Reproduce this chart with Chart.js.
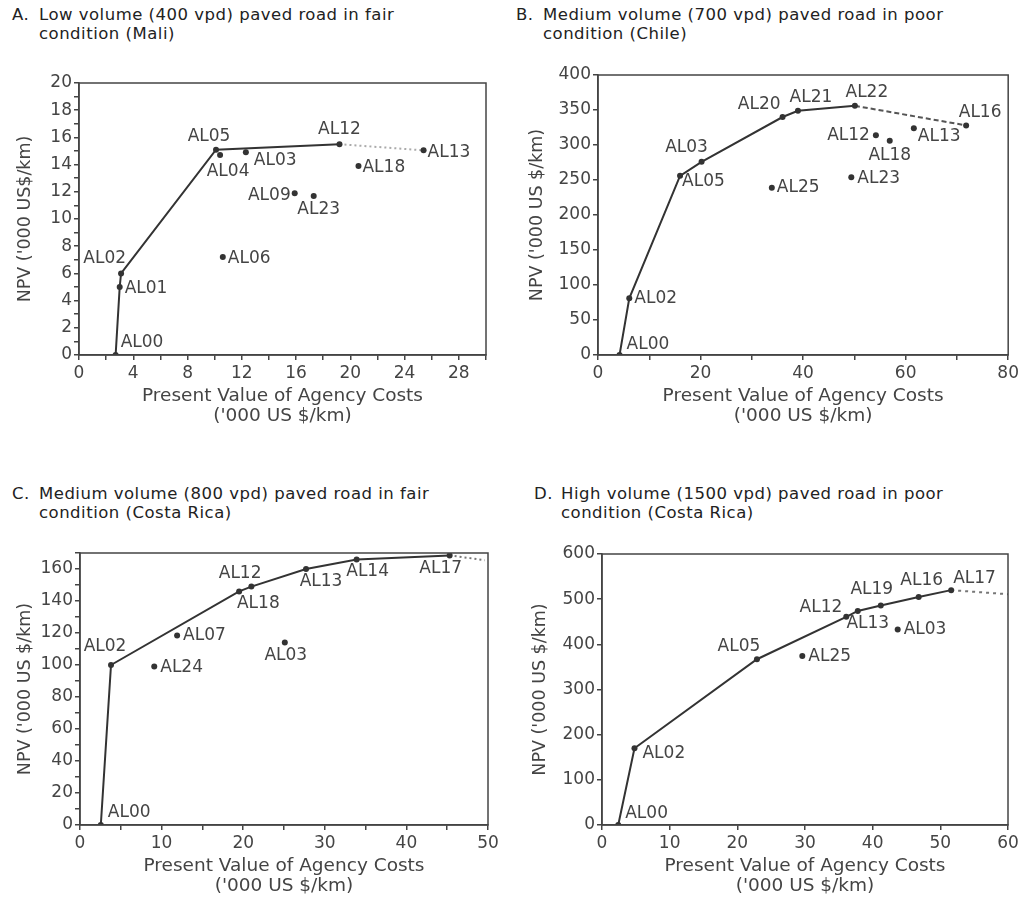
<!DOCTYPE html>
<html>
<head>
<meta charset="utf-8">
<script src="https://cdn.jsdelivr.net/npm/chart.js@4/dist/chart.umd.min.js"></script>
<style>
html, body { margin: 0; padding: 0; background: #fff; overflow: hidden; }
body { width: 1023px; height: 903px; position: relative; font-family: "DejaVu Sans", sans-serif; }
.ttl { position: absolute; font-size: 16.5px; line-height: 19px; letter-spacing: 0.5px; color: #222; white-space: nowrap; }
.ttl .pre { position: absolute; left: 0; top: 0; }
.ttl .txt { display: block; margin-left: 27px; }
canvas { position: absolute; }
</style>
</head>
<body>
<div class="ttl" style="left:12px;top:5px"><span class="pre">A.</span><span class="txt">Low volume (400 vpd) paved road in fair<br>condition (Mali)</span></div>
<div class="ttl" style="left:516px;top:5px"><span class="pre">B.</span><span class="txt">Medium volume (700 vpd) paved road in poor<br>condition (Chile)</span></div>
<div class="ttl" style="left:12px;top:484px"><span class="pre">C.</span><span class="txt">Medium volume (800 vpd) paved road in fair<br>condition (Costa Rica)</span></div>
<div class="ttl" style="left:534px;top:484px"><span class="pre">D.</span><span class="txt">High volume (1500 vpd) paved road in poor<br>condition (Costa Rica)</span></div>

<canvas id="chartA" width="506" height="380" style="left:0px;top:50px"></canvas>
<canvas id="chartB" width="514" height="380" style="left:508px;top:50px"></canvas>
<canvas id="chartC" width="506" height="370" style="left:0px;top:530px"></canvas>
<canvas id="chartD" width="514" height="370" style="left:508px;top:530px"></canvas>

<script>
// ---- data ----
// A. Mali, 400 vpd
const aNames = ['AL00', 'AL01', 'AL02', 'AL05', 'AL04', 'AL03', 'AL12', 'AL13', 'AL18', 'AL09', 'AL23', 'AL06'];
const aCost = [2.7, 3.0, 3.1, 10.1, 10.4, 12.3, 19.2, 25.4, 20.6, 15.9, 17.3, 10.6];
const aNpv = [0, 5.0, 6.0, 15.1, 14.7, 14.9, 15.5, 15.05, 13.9, 11.9, 11.7, 7.2];
const aFrontier = ['AL00', 'AL01', 'AL02', 'AL05', 'AL12'];
const aTail = ['AL12', 'AL13'];

// B. Chile, 700 vpd
const bNames = ['AL00', 'AL02', 'AL05', 'AL03', 'AL20', 'AL21', 'AL22', 'AL16', 'AL12', 'AL18', 'AL13', 'AL23', 'AL25'];
const bCost = [4.2, 6.1, 16.0, 20.2, 36.0, 39.0, 50.1, 71.8, 54.2, 56.9, 61.6, 49.4, 33.9];
const bNpv = [0, 81, 256, 276, 340, 349, 356, 328, 314, 306, 324, 254, 239];
const bFrontier = ['AL00', 'AL02', 'AL05', 'AL03', 'AL20', 'AL21', 'AL22'];
const bTail = ['AL22', 'AL16'];

// C. Costa Rica, 800 vpd
const cNames = ['AL00', 'AL02', 'AL12', 'AL18', 'AL13', 'AL14', 'AL17', 'AL07', 'AL24', 'AL03'];
const cCost = [2.55, 3.8, 19.5, 21.0, 27.7, 33.9, 45.3, 11.9, 9.1, 25.1];
const cNpv = [0, 100, 146, 149, 160, 166, 168.5, 118.5, 99, 114];
const cFrontier = ['AL00', 'AL02', 'AL12', 'AL18', 'AL13', 'AL14', 'AL17'];
const cTail = ['AL17'];
const cEdgeCost = [49.6];
const cEdgeNpv = [165.5];

// D. Costa Rica, 1500 vpd
const dNames = ['AL00', 'AL02', 'AL05', 'AL12', 'AL13', 'AL19', 'AL16', 'AL17', 'AL25', 'AL03'];
const dCost = [2.4, 4.8, 22.9, 36.1, 37.8, 41.2, 46.8, 51.6, 29.6, 43.7];
const dNpv = [0, 170, 367, 461, 474, 486, 505, 520, 374, 433];
const dFrontier = ['AL00', 'AL02', 'AL05', 'AL12', 'AL13', 'AL19', 'AL16', 'AL17'];
const dTail = ['AL17'];
const dEdgeCost = [60];
const dEdgeNpv = [511];

const xTitle = ['Present Value of Agency Costs', "('000 US $/km)"];

// label placement next to each point: [align, dx, dy]
const placeA = {
  AL00: ['left', 5, -12], AL01: ['left', 5, 2], AL02: ['right', 5, -15], AL05: ['center', -7, -13],
  AL04: ['center', 8, 16], AL03: ['left', 8, 8], AL12: ['center', 0, -15], AL13: ['left', 4, 2],
  AL18: ['left', 4, 2], AL09: ['right', -4, 2], AL23: ['center', 5, 14], AL06: ['left', 5, 1]
};
const placeB = {
  AL00: ['left', 7, -10], AL02: ['left', 5, 0], AL05: ['left', 2, 6], AL03: ['center', -15, -14],
  AL20: ['right', -2, -12], AL21: ['center', 13, -13], AL22: ['center', 12, -13], AL16: ['center', 14, -13],
  AL12: ['right', -6, 0], AL18: ['center', 0, 15], AL13: ['left', 4, 8], AL23: ['left', 6, 1], AL25: ['left', 5, 0]
};
const placeC = {
  AL00: ['left', 7, -12], AL02: ['center', -6, -18], AL07: ['left', 6, 0], AL24: ['left', 6, 1],
  AL12: ['center', 1, -18], AL18: ['center', 7, 17], AL13: ['center', 15, 13], AL14: ['center', 11, 12],
  AL17: ['center', -9, 13], AL03: ['center', 1, 13]
};
const placeD = {
  AL00: ['left', 7, -11], AL02: ['left', 8, 5], AL05: ['center', -18, -13], AL12: ['right', -4, -9],
  AL13: ['center', 10, 13], AL19: ['center', -9, -16], AL16: ['center', 3, -16], AL17: ['left', 2, -12],
  AL25: ['left', 6, 1], AL03: ['left', 6, 0]
};

const FONT = '"DejaVu Sans", sans-serif';
const INK = '#444';

// box round the plot area
const framePlugin = {
  id: 'frame',
  afterDraw(chart) {
    const { ctx, chartArea: a } = chart;
    ctx.save();
    ctx.strokeStyle = INK;
    ctx.lineWidth = 1.5;
    ctx.strokeRect(a.left, a.top, a.right - a.left, a.bottom - a.top);
    ctx.restore();
  }
};

// AL.. names beside the points
const namePlugin = {
  id: 'pointNames',
  afterDatasetsDraw(chart, args, opts) {
    const ctx = chart.ctx;
    const ds = chart.data.datasets[0];
    const meta = chart.getDatasetMeta(0);
    ctx.save();
    ctx.font = '17px ' + FONT;
    ctx.fillStyle = INK;
    ctx.textBaseline = 'middle';
    meta.data.forEach((el, i) => {
      const name = ds.names[i];
      const p = opts.place[name] || ['left', 5, 0];
      ctx.textAlign = p[0];
      ctx.fillText(name, el.x + p[1], el.y + p[2]);
    });
    ctx.restore();
  }
};

function pick(names, cost, npv, list) {
  return list.map(n => {
    const i = names.indexOf(n);
    return { x: cost[i], y: npv[i] };
  });
}

function makePanel(id, d) {
  const pts = d.names.map((n, i) => ({ x: d.cost[i], y: d.npv[i] }));
  const tail = pick(d.names, d.cost, d.npv, d.tail);
  (d.edgeCost || []).forEach((c, i) => tail.push({ x: c, y: d.edgeNpv[i] }));

  new Chart(document.getElementById(id), {
    type: 'scatter',
    data: {
      datasets: [
        { names: d.names, data: pts, pointRadius: 3, pointBackgroundColor: '#333', pointBorderWidth: 0, showLine: false },
        { data: pick(d.names, d.cost, d.npv, d.frontier), showLine: true, borderColor: '#333', borderWidth: 2, pointRadius: 0, tension: 0 },
        { data: tail, showLine: true, borderColor: d.tailColor, borderWidth: 2, borderDash: d.dash, pointRadius: 0, tension: 0 }
      ]
    },
    options: {
      responsive: false,
      animation: false,
      layout: { padding: d.pad },
      plugins: { legend: { display: false }, tooltip: { enabled: false }, pointNames: { place: d.place } },
      scales: {
        x: {
          type: 'linear', min: d.xMin, max: d.xMax,
          afterFit(s) { s.height = 75; },
          ticks: {
            stepSize: d.xStep, autoSkip: false, maxRotation: 0, color: INK, padding: 3,
            font: { family: FONT, size: 17 },
            callback: v => (Math.round(v) % d.xLabelStep === 0 && v <= d.xLastLabel) ? String(Math.round(v)) : ''
          },
          grid: { drawOnChartArea: false, tickLength: 5, color: INK, lineWidth: 1.5 },
          border: { color: INK, width: 1.5 },
          title: { display: true, text: xTitle, color: INK, font: { family: FONT, size: 18.5, lineHeight: 1.07 }, padding: { top: 0, bottom: 4 } }
        },
        y: {
          type: 'linear', min: 0, max: d.yMax,
          afterFit(s) { s.width = d.yWidth; },
          ticks: {
            stepSize: d.yStep, autoSkip: false, color: INK, padding: 2,
            font: { family: FONT, size: 17 },
            callback: v => (Math.round(v) % d.yLabelStep === 0 && v <= d.yLastLabel) ? String(Math.round(v)) : ''
          },
          grid: { drawOnChartArea: false, tickLength: 5, color: INK, lineWidth: 1.5 },
          border: { color: INK, width: 1.5 },
          title: { display: true, text: d.yTitle, color: INK, font: { family: FONT, size: 17.5 }, padding: { top: d.yTitlePad, bottom: 0 } }
        }
      }
    },
    plugins: [framePlugin, namePlugin]
  });
}

makePanel('chartA', {
  names: aNames, cost: aCost, npv: aNpv, frontier: aFrontier, tail: aTail,
  tailColor: '#aaa', dash: [2, 3], place: placeA,
  xMin: 0, xMax: 30, xStep: 2, xLabelStep: 4, xLastLabel: 28,
  yMax: 20, yStep: 1, yLabelStep: 2, yLastLabel: 20,
  yTitle: "NPV ('000 US$/km)", yTitlePad: 15, yWidth: 79,
  pad: { top: 33, left: 0, right: 20, bottom: 0 }
});

makePanel('chartB', {
  names: bNames, cost: bCost, npv: bNpv, frontier: bFrontier, tail: bTail,
  tailColor: '#555', dash: [5, 3], place: placeB,
  xMin: 0, xMax: 80, xStep: 10, xLabelStep: 20, xLastLabel: 80,
  yMax: 400, yStep: 50, yLabelStep: 50, yLastLabel: 400,
  yTitle: "NPV ('000 US $/km)", yTitlePad: 19, yWidth: 90,
  pad: { top: 25, left: 0, right: 12, bottom: 0 }
});

makePanel('chartC', {
  names: cNames, cost: cCost, npv: cNpv, frontier: cFrontier, tail: cTail,
  edgeCost: cEdgeCost, edgeNpv: cEdgeNpv,
  tailColor: '#777', dash: [2, 3], place: placeC,
  xMin: 0, xMax: 50, xStep: 5, xLabelStep: 10, xLastLabel: 50,
  yMax: 170, yStep: 10, yLabelStep: 20, yLastLabel: 160,
  yTitle: "NPV ('000 US $/km)", yTitlePad: 15, yWidth: 80,
  pad: { top: 23, left: 0, right: 18, bottom: 0 }
});

makePanel('chartD', {
  names: dNames, cost: dCost, npv: dNpv, frontier: dFrontier, tail: dTail,
  edgeCost: dEdgeCost, edgeNpv: dEdgeNpv,
  tailColor: '#777', dash: [3, 4], place: placeD,
  xMin: 0, xMax: 60, xStep: 10, xLabelStep: 10, xLastLabel: 60,
  yMax: 600, yStep: 100, yLabelStep: 100, yLastLabel: 600,
  yTitle: "NPV ('000 US $/km)", yTitlePad: 22, yWidth: 94,
  pad: { top: 24, left: 0, right: 14, bottom: 0 }
});
</script>
</body>
</html>
